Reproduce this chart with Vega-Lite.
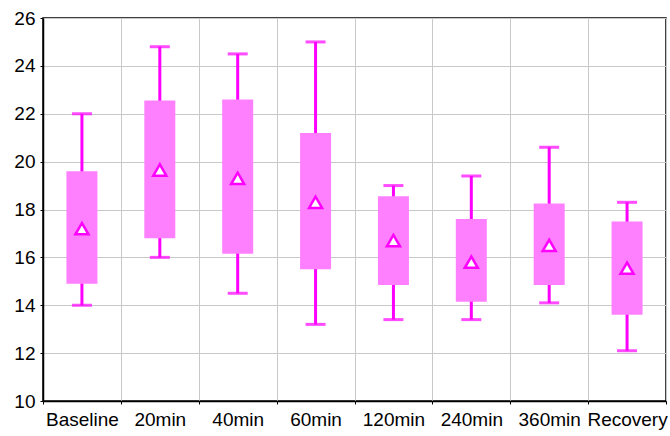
{
  "$schema": "https://vega.github.io/schema/vega-lite/v6.json",
  "width": 623,
  "height": 383,
  "autosize": {"type": "none"},
  "padding": {"left": 43, "top": 18, "right": 4, "bottom": 35},
  "background": "white",
  "config": {
    "view": {"stroke": "#000000", "strokeWidth": 1.5},
    "font": "Liberation Sans",
    "axis": {
      "labelFont": "Liberation Sans",
      "labelFontSize": 19,
      "labelColor": "#000000",
      "gridColor": "#c8c8c8",
      "gridWidth": 1,
      "domainColor": "#000000",
      "domainWidth": 1.5,
      "tickColor": "#000000"
    }
  },
  "data": {
    "values": [
      {"time": "Baseline", "lo": 14.0, "q1": 14.9, "q3": 19.6, "hi": 22.0, "mean": 17.2},
      {"time": "20min", "lo": 16.0, "q1": 16.8, "q3": 22.55, "hi": 24.8, "mean": 19.65},
      {"time": "40min", "lo": 14.5, "q1": 16.15, "q3": 22.6, "hi": 24.5, "mean": 19.3},
      {"time": "60min", "lo": 13.2, "q1": 15.5, "q3": 21.2, "hi": 25.0, "mean": 18.3},
      {"time": "120min", "lo": 13.4, "q1": 14.85, "q3": 18.55, "hi": 19.0, "mean": 16.7},
      {"time": "240min", "lo": 13.4, "q1": 14.15, "q3": 17.6, "hi": 19.4, "mean": 15.8},
      {"time": "360min", "lo": 14.1, "q1": 14.85, "q3": 18.25, "hi": 20.6, "mean": 16.5},
      {"time": "Recovery", "lo": 12.1, "q1": 13.6, "q3": 17.5, "hi": 18.3, "mean": 15.55}
    ]
  },
  "encoding": {
    "x": {
      "field": "time",
      "type": "nominal",
      "sort": null,
      "title": null,
      "scale": {"paddingInner": 0, "paddingOuter": 0},
      "axis": {
        "labelAngle": 0,
        "grid": true,
        "tickBand": "extent",
        "ticks": true,
        "tickSize": 3,
        "labelPadding": 6,
        "domain": true
      }
    }
  },
  "layer": [
    {
      "mark": {"type": "rule", "color": "#FF00FF", "strokeWidth": 3},
      "encoding": {
        "y": {
          "field": "lo",
          "type": "quantitative",
          "title": null,
          "scale": {"domain": [10, 26], "nice": false},
          "axis": {"values": [10, 12, 14, 16, 18, 20, 22, 24, 26], "tickSize": 3, "labelPadding": 5, "grid": true}
        },
        "y2": {"field": "hi"}
      }
    },
    {
      "mark": {"type": "tick", "color": "#FF00FF", "thickness": 3, "size": 20, "orient": "horizontal"},
      "encoding": {"y": {"field": "lo", "type": "quantitative"}}
    },
    {
      "mark": {"type": "tick", "color": "#FF00FF", "thickness": 3, "size": 20, "orient": "horizontal"},
      "encoding": {"y": {"field": "hi", "type": "quantitative"}}
    },
    {
      "mark": {"type": "bar", "color": "#FF80FF", "size": 31},
      "encoding": {
        "y": {"field": "q1", "type": "quantitative"},
        "y2": {"field": "q3"}
      }
    },
    {
      "mark": {"type": "point", "shape": "triangle-up", "filled": true, "fill": "#FFFFFF", "stroke": "#FF00FF", "strokeWidth": 2.5, "size": 170, "opacity": 1},
      "encoding": {"y": {"field": "mean", "type": "quantitative"}}
    }
  ]
}
